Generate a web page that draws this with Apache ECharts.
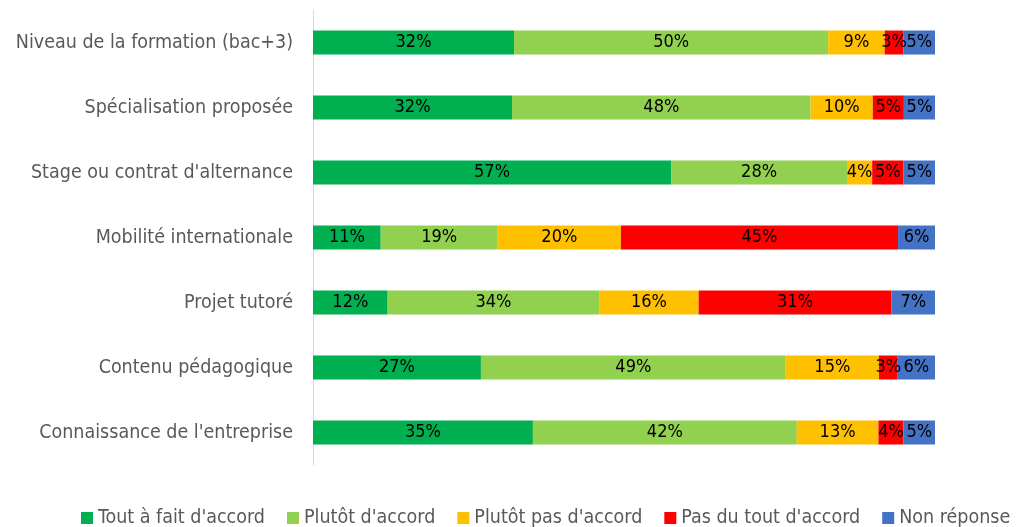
<!DOCTYPE html>
<html>
<head>
<meta charset="utf-8">
<script src="https://cdn.jsdelivr.net/npm/echarts@6/dist/echarts.min.js"></script>
<style>
  html, body { margin: 0; padding: 0; background: #fff; }
  #chart { width: 1016px; height: 527px; }
</style>
</head>
<body>
<div id="chart"></div>
<script>
// categories, top to bottom
var categories = [
  "Niveau de la formation (bac+3)",
  "Spécialisation proposée",
  "Stage ou contrat d'alternance",
  "Mobilité internationale",
  "Projet tutoré",
  "Contenu pédagogique",
  "Connaissance de l'entreprise"
];

var seriesNames = ["Tout à fait d'accord", "Plutôt d'accord", "Plutôt pas d'accord", "Pas du tout d'accord", "Non réponse"];
var colors = ["#00B050", "#92D050", "#FFC000", "#FF0000", "#4472C4"];

// percentages as labelled
var toutAFait   = [32, 32, 57, 11, 12, 27, 35];
var plutot      = [50, 48, 28, 19, 34, 49, 42];
var plutotPas   = [9, 10, 4, 20, 16, 15, 13];
var pasDuTout   = [3, 5, 5, 45, 31, 3, 4];
var nonReponse  = [5, 5, 5, 6, 7, 6, 5];

var values = [toutAFait, plutot, plutotPas, pasDuTout, nonReponse];

function _sum(arr) { return arr.reduce((a, b) => a + b, 0); }
// 100% stacked: each row is scaled to its own total
var rowTotal = categories.map((c, i) => _sum(values.map(v => v[i])));

var font = '"DejaVu Sans Condensed", "DejaVu Sans", sans-serif';

var series = values.map((vals, k) => {
  return {
    name: seriesNames[k],
    type: "bar",
    stack: "total",
    barWidth: 24,
    itemStyle: { color: colors[k] },
    label: {
      show: true,
      position: "inside",
      color: "#000",
      fontFamily: font,
      fontSize: 18,
      formatter: (p) => vals[p.dataIndex] + "%"
    },
    data: vals.map((v, i) => ({ value: v / rowTotal[i] * 100 }))
  };
});

var chart = echarts.init(document.getElementById("chart"));
chart.setOption({
  animation: false,
  grid: { left: 313, right: 81, top: 10, bottom: 62 },
  legend: {
    top: 503,
    left: 76,
    right: 0,
    itemWidth: 12,
    itemHeight: 12,
    itemGap: 22,
    icon: "rect",
    textStyle: { color: "#595959", fontSize: 19.5, fontFamily: font },
    data: seriesNames
  },
  xAxis: {
    type: "value",
    min: 0,
    max: 100,
    show: false
  },
  yAxis: {
    type: "category",
    inverse: true,
    data: categories,
    axisLine: { show: true, lineStyle: { color: "#d9d9d9" } },
    axisTick: { show: false },
    axisLabel: {
      color: "#595959",
      fontSize: 19.5,
      fontFamily: font,
      margin: 20
    }
  },
  series: series
});
</script>
</body>
</html>
